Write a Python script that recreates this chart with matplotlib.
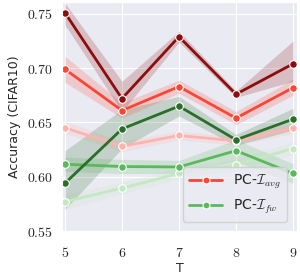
import numpy as np
import matplotlib.pyplot as plt
import seaborn as sns
from matplotlib.ticker import FuncFormatter

sns.set_style('darkgrid')
plt.rcParams['mathtext.fontset'] = 'cm'

T = [5, 6, 7, 8, 9]

# mean accuracy and lower/upper band per series
avg_dark = [0.751, 0.672, 0.729, 0.676, 0.704]
avg_dark_lo = [0.740, 0.660, 0.724, 0.673, 0.688]
avg_dark_hi = [0.760, 0.688, 0.734, 0.679, 0.725]

avg_mid = [0.699, 0.661, 0.683, 0.654, 0.682]
avg_mid_lo = [0.687, 0.654, 0.677, 0.648, 0.675]
avg_mid_hi = [0.711, 0.668, 0.689, 0.660, 0.690]

avg_light = [0.645, 0.628, 0.638, 0.633, 0.645]
avg_light_lo = [0.640, 0.623, 0.634, 0.629, 0.640]
avg_light_hi = [0.651, 0.633, 0.642, 0.637, 0.650]

fw_dark = [0.594, 0.644, 0.665, 0.634, 0.653]
fw_dark_lo = [0.570, 0.626, 0.656, 0.629, 0.643]
fw_dark_hi = [0.624, 0.662, 0.674, 0.639, 0.663]

fw_mid = [0.6115, 0.6094, 0.609, 0.624, 0.603]
fw_mid_lo = [0.605, 0.603, 0.603, 0.614, 0.594]
fw_mid_hi = [0.618, 0.616, 0.615, 0.634, 0.612]

fw_light = [0.577, 0.5895, 0.603, 0.611, 0.626]
fw_light_lo = [0.570, 0.584, 0.598, 0.606, 0.620]
fw_light_hi = [0.584, 0.595, 0.608, 0.616, 0.632]

series = [
    (avg_light, avg_light_lo, avg_light_hi, '#ffb3ae'),
    (fw_light, fw_light_lo, fw_light_hi, '#c5e8c4'),
    (fw_mid, fw_mid_lo, fw_mid_hi, '#5cb85c'),
    (fw_dark, fw_dark_lo, fw_dark_hi, '#2a6e2a'),
    (avg_mid, avg_mid_lo, avg_mid_hi, '#fb4535'),
    (avg_dark, avg_dark_lo, avg_dark_hi, '#8b0d0d'),
]

fig, ax = plt.subplots(figsize=(3.0, 2.78), dpi=100)
fig.subplots_adjust(left=0.207, right=0.99, bottom=0.169, top=0.993)

for mean, lo, hi, c in series:
    ax.fill_between(T, lo, hi, color=c, alpha=0.2, lw=0)
    ax.plot(T, mean, color=c, lw=2, marker='o', ms=5.5,
            markeredgecolor='white', markeredgewidth=0.8)

ax.plot([], [], color='#fb4535', lw=2, marker='o', ms=5,
        markeredgecolor='white', markeredgewidth=0.8, label=r'PC-$\mathcal{I}_{avg}$')
ax.plot([], [], color='#5cb85c', lw=2, marker='o', ms=5,
        markeredgecolor='white', markeredgewidth=0.8, label=r'PC-$\mathcal{I}_{fw}$')
ax.legend(loc='lower right', fontsize=10, framealpha=0.8, handlelength=2.4,
          bbox_to_anchor=(0.985, 0.01))

ax.set_xlim(4.95, 9.07)
ax.set_ylim(0.55, 0.761)
ax.set_xticks(T)
ax.set_yticks([0.55, 0.60, 0.65, 0.70, 0.75])
ax.xaxis.set_major_formatter(FuncFormatter(lambda v, p: '$%d$' % v))
ax.yaxis.set_major_formatter(FuncFormatter(lambda v, p: '$%.2f$' % v))
ax.tick_params(axis='y', labelsize=10, pad=3)
ax.tick_params(axis='x', labelsize=10, pad=7)
ax.set_xlabel('T', fontsize=9, labelpad=2)
ax.set_ylabel('Accuracy (CIFAR10)', fontsize=9, labelpad=4)

plt.savefig('out.png')
